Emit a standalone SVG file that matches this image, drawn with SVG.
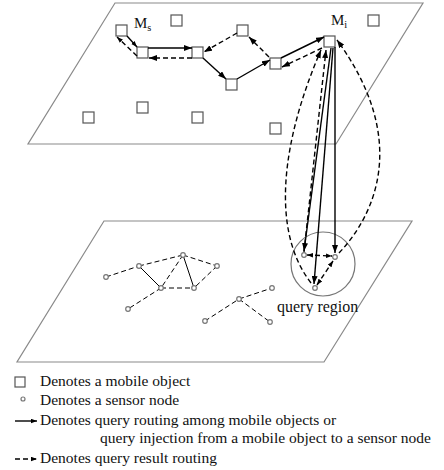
<svg xmlns="http://www.w3.org/2000/svg" width="444" height="470" viewBox="0 0 444 470">
  <defs>
    <marker id="ah" viewBox="0 0 8 6" refX="8" refY="3" markerWidth="8" markerHeight="6" markerUnits="userSpaceOnUse" orient="auto-start-reverse">
      <path d="M0,0 L8,3 L0,6 z" fill="#000"/>
    </marker>
    <marker id="ahs" viewBox="0 0 8 6" refX="8" refY="3" markerWidth="6" markerHeight="5" markerUnits="userSpaceOnUse" orient="auto-start-reverse">
      <path d="M0,0 L8,3 L0,6 z" fill="#000"/>
    </marker>
    <style>
      .plane { fill: none; stroke: #8a8a8a; stroke-width: 1.2; }
      .mo { fill: #fff; stroke: #555; stroke-width: 1.2; }
      .sn { fill: #fff; stroke: #777; stroke-width: 1.2; }
      .solid { fill: none; stroke: #000; stroke-width: 1.4; }
      .dash { fill: none; stroke: #000; stroke-width: 1.4; stroke-dasharray: 5 3; }
      .net { fill: none; stroke: #000; stroke-width: 1; stroke-dasharray: 5 3; }
      .netS { fill: none; stroke: #000; stroke-width: 1; }
      .region { fill: none; stroke: #777; stroke-width: 1.2; }
      text { font-family: "Liberation Serif", "Times New Roman", serif; fill: #111; }
      .lg { font-size: 15.5px; }
    </style>
  </defs>

  <!-- the two layers: mobile objects above, sensor field below -->
  <g id="plane-mobile">
    <polygon class="plane" points="115,3 423,3 336,144 28,144"/>
  </g>
  <g id="plane-sensor">
    <polygon class="plane" points="104,221 412,221 324,362 17,362"/>
  </g>

  <!-- mobile objects -->
  <g id="mo-s"><rect class="mo" x="116" y="25" width="11" height="11"/>
    <text x="134" y="28" font-size="15">M<tspan font-size="10.5" dy="3">s</tspan></text></g>
  <g id="mo-2"><rect class="mo" x="171" y="15" width="11" height="11"/></g>
  <g id="mo-3"><rect class="mo" x="137" y="47" width="11" height="11"/></g>
  <g id="mo-4"><rect class="mo" x="192" y="47" width="11" height="11"/></g>
  <g id="mo-5"><rect class="mo" x="237" y="25" width="11" height="11"/></g>
  <g id="mo-6"><rect class="mo" x="226" y="79" width="11" height="11"/></g>
  <g id="mo-7"><rect class="mo" x="270" y="58" width="11" height="11"/></g>
  <g id="mo-i"><rect class="mo" x="324" y="36" width="11" height="11"/>
    <text x="331" y="25" font-size="15">M<tspan font-size="10.5" dy="3">i</tspan></text></g>
  <g id="mo-9"><rect class="mo" x="368" y="15" width="11" height="11"/></g>
  <g id="mo-10"><rect class="mo" x="137" y="102" width="11" height="11"/></g>
  <g id="mo-11"><rect class="mo" x="83" y="112" width="11" height="11"/></g>
  <g id="mo-12"><rect class="mo" x="192" y="112" width="11" height="11"/></g>
  <g id="mo-13"><rect class="mo" x="270" y="123" width="11" height="11"/></g>

  <!-- query region -->
  <g id="query-region">
    <circle class="region" cx="323" cy="264" r="32"/>
    <text x="277" y="312" font-size="16">query region</text>
  </g>

  <!-- connectors -->
  <g id="connectors">
    <!-- routing among mobile objects -->
    <path class="solid" d="M127,36 L137,47" marker-end="url(#ahs)"/>
    <path class="dash" d="M137,56 L117,37" marker-end="url(#ahs)"/>
    <path class="solid" d="M148,48 L192,48" marker-end="url(#ah)"/>
    <path class="dash" d="M192,58 L149,58" marker-end="url(#ah)"/>
    <path class="dash" d="M237,33 L204,52" marker-end="url(#ah)"/>
    <path class="solid" d="M203,58 L226,79" marker-end="url(#ah)"/>
    <path class="solid" d="M237,79 L270,60" marker-end="url(#ah)"/>
    <path class="dash" d="M269,57 L249,37" marker-end="url(#ah)"/>
    <path class="solid" d="M281,58 L324,37" marker-end="url(#ah)"/>
    <path class="dash" d="M322,48 L282,67" marker-end="url(#ah)"/>

    <!-- query injection from Mi into the region -->
    <path class="solid" d="M331,48 L304,251" marker-end="url(#ah)"/>
    <path class="solid" d="M333,48 L314,284" marker-end="url(#ah)"/>
    <path class="solid" d="M335,47 L335,253" stroke-width="2" marker-end="url(#ah)"/>

    <!-- results routed back up to Mi -->
    <path class="dash" d="M311,283 C270,230 282,140 321,50" marker-end="url(#ah)"/>
    <path class="dash" d="M304,252 L326,50" marker-end="url(#ah)"/>
    <path class="dash" d="M339,253 C375,215 410,140 337,40" marker-end="url(#ah)"/>

    <!-- result routing inside the region -->
    <path class="dash" d="M307,255 L332,256" marker-start="url(#ahs)" marker-end="url(#ahs)"/>
    <path class="dash" d="M333,261 L317,285" marker-start="url(#ahs)" marker-end="url(#ahs)"/>

    <!-- sensor network links -->
    <path class="net" d="M106,277 L139,266"/>
    <path class="net" d="M139,266 L183,255"/>
    <path class="net" d="M183,255 L217,266"/>
    <path class="netS" d="M139,266 L161,288"/>
    <path class="net" d="M183,255 L161,288"/>
    <path class="netS" d="M183,255 L194,288"/>
    <path class="net" d="M161,288 L194,288"/>
    <path class="net" d="M217,266 L194,288"/>
    <path class="net" d="M161,288 L128,309"/>
    <path class="net" d="M205,321 L239,299"/>
    <path class="net" d="M239,299 L272,288"/>
    <path class="net" d="M239,299 L270,322"/>
  </g>

  <!-- sensor nodes -->
  <g id="sn-1"><circle class="sn" cx="106" cy="277" r="2.3"/></g>
  <g id="sn-2"><circle class="sn" cx="139" cy="266" r="2.3"/></g>
  <g id="sn-3"><circle class="sn" cx="183" cy="255" r="2.3"/></g>
  <g id="sn-4"><circle class="sn" cx="217" cy="266" r="2.3"/></g>
  <g id="sn-5"><circle class="sn" cx="161" cy="288" r="2.3"/></g>
  <g id="sn-6"><circle class="sn" cx="194" cy="288" r="2.3"/></g>
  <g id="sn-7"><circle class="sn" cx="128" cy="309" r="2.3"/></g>
  <g id="sn-8"><circle class="sn" cx="205" cy="321" r="2.3"/></g>
  <g id="sn-9"><circle class="sn" cx="239" cy="299" r="2.3"/></g>
  <g id="sn-10"><circle class="sn" cx="272" cy="288" r="2.3"/></g>
  <g id="sn-11"><circle class="sn" cx="270" cy="322" r="2.3"/></g>
  <g id="sn-a"><circle class="sn" cx="304" cy="255" r="2.3"/></g>
  <g id="sn-b"><circle class="sn" cx="335" cy="257" r="2.3"/></g>
  <g id="sn-c"><circle class="sn" cx="315" cy="288" r="2.3"/></g>

  <!-- legend -->
  <g id="legend">
    <rect class="mo" x="15" y="377" width="10" height="10"/>
    <text class="lg" x="40" y="386">Denotes a mobile object</text>
    <circle class="sn" cx="23" cy="399" r="2"/>
    <text class="lg" x="40" y="405">Denotes a sensor node</text>
    <path class="solid" d="M15,421 L37,421" marker-end="url(#ahs)"/>
    <text class="lg" x="40" y="425">Denotes query routing among mobile objects or</text>
    <text class="lg" x="100" y="443">query injection from a mobile object to a sensor node</text>
    <path class="dash" d="M15,459 L37,459" stroke-dasharray="2 2" marker-end="url(#ahs)"/>
    <text class="lg" x="40" y="463">Denotes query result routing</text>
  </g>
</svg>
